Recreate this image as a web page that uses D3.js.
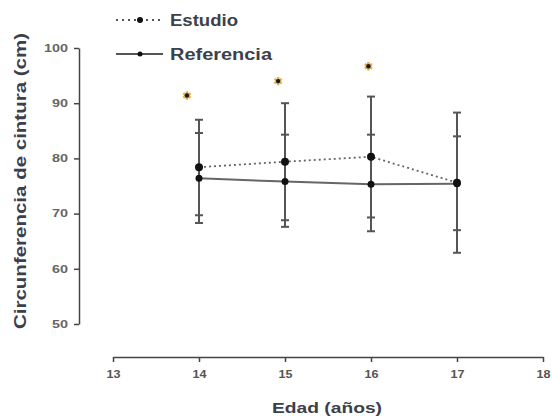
<!DOCTYPE html>
<html>
<head>
<meta charset="utf-8">
<script src="https://cdn.jsdelivr.net/npm/d3@7"></script>
<style>
  body { margin: 0; background: #fff; }
  svg { font-family: "Liberation Sans", Arial, sans-serif; }
</style>
</head>
<body>
<div id="chart"></div>
<script>
// data
const edades = [14, 15, 16, 17];
const estudioMedia = [78.4, 79.4, 80.3, 75.6];
const estudioSup = [87.0, 90.0, 91.2, 88.3];
const estudioInf = [69.7, 68.8, 69.3, 62.9];
const refMedia = [76.4, 75.8, 75.3, 75.4];
const refSup = [84.6, 84.3, 84.3, 84.0];
const refInf = [68.3, 67.6, 66.8, 67.0];
const asteriscos = [[13.86, 91.4], [14.92, 94.0], [15.97, 96.7]];
const xTicks = [13, 14, 15, 16, 17, 18];
const yTicks = [50, 60, 70, 80, 90, 100];

const config = {div: '#chart', width: 552, height: 416};

const svg = d3.select(config.div)
  .append('svg')
  .attr('width', config.width)
  .attr('height', config.height);

const xScale = d3.scaleLinear().domain([13, 18]).range([113, 543]);
const yScale = d3.scaleLinear().domain([50, 100]).range([324, 48]);

const axisColor = '#444';
const textColor = '#3b404c';

// the original picture is stretched sideways, so text gets a fixed length
function wideText(sel, perChar) {
  sel.attr('textLength', function() { return this.textContent.length * perChar; })
    .attr('lengthAdjust', 'spacingAndGlyphs');
}

// y axis
const yAxis = d3.axisLeft(yScale).tickValues(yTicks).tickSize(5).tickSizeOuter(0).tickPadding(6);
const gy = svg.append('g')
  .attr('transform', 'translate(79,0)')
  .call(yAxis);
gy.select('.domain').attr('stroke', axisColor).attr('stroke-width', 1.5);
gy.selectAll('.tick line').attr('stroke', axisColor).attr('stroke-width', 1.5);
gy.selectAll('.tick text')
  .attr('fill', '#666')
  .style('font-size', '10px')
  .style('font-weight', 'bold')
  .call(wideText, 8);

// x axis
const xAxis = d3.axisBottom(xScale).tickValues(xTicks).tickFormat(d3.format('d'))
  .tickSize(5).tickSizeOuter(0).tickPadding(9);
const gx = svg.append('g')
  .attr('transform', 'translate(0,357)')
  .call(xAxis);
gx.select('.domain').attr('stroke', axisColor).attr('stroke-width', 1.5);
gx.selectAll('.tick line').attr('stroke', axisColor).attr('stroke-width', 1.5);
gx.selectAll('.tick text')
  .attr('fill', '#555')
  .style('font-size', '10px')
  .style('font-weight', 'bold')
  .call(wideText, 7);

// axis titles
svg.append('text')
  .attr('transform', 'translate(26,181)rotate(-90)')
  .attr('text-anchor', 'middle')
  .attr('fill', textColor)
  .style('font-size', '16px')
  .style('font-weight', 'bold')
  .attr('textLength', 296)
  .attr('lengthAdjust', 'spacingAndGlyphs')
  .text('Circunferencia de cintura (cm)');

svg.append('text')
  .attr('x', 327)
  .attr('y', 413)
  .attr('text-anchor', 'middle')
  .attr('fill', textColor)
  .style('font-size', '15px')
  .style('font-weight', 'bold')
  .attr('textLength', 110)
  .attr('lengthAdjust', 'spacingAndGlyphs')
  .text('Edad (años)');

// error bars
function errorBars(sup, inf) {
  const g = svg.append('g').attr('stroke', '#555').attr('stroke-width', 2);
  edades.forEach((e, i) => {
    const x = xScale(e);
    g.append('line')
      .attr('x1', x).attr('x2', x)
      .attr('y1', yScale(sup[i])).attr('y2', yScale(inf[i]));
    [sup[i], inf[i]].forEach(v => {
      g.append('line')
        .attr('x1', x - 4).attr('x2', x + 4)
        .attr('y1', yScale(v)).attr('y2', yScale(v));
    });
  });
}
errorBars(estudioSup, estudioInf);
errorBars(refSup, refInf);

// lines
const line = d3.line().x(d => xScale(d[0])).y(d => yScale(d[1]));
svg.append('path')
  .datum(edades.map((e, i) => [e, refMedia[i]]))
  .attr('d', line)
  .attr('fill', 'none')
  .attr('stroke', '#666')
  .attr('stroke-width', 2);
svg.append('path')
  .datum(edades.map((e, i) => [e, estudioMedia[i]]))
  .attr('d', line)
  .attr('fill', 'none')
  .attr('stroke', '#666')
  .attr('stroke-width', 1.8)
  .attr('stroke-dasharray', '2,3');

// markers
svg.selectAll('.ref')
  .data(edades)
  .enter()
  .append('circle')
    .attr('cx', d => xScale(d))
    .attr('cy', (d, i) => yScale(refMedia[i]))
    .attr('r', 3.5)
    .attr('fill', '#111');
svg.selectAll('.est')
  .data(edades)
  .enter()
  .append('circle')
    .attr('cx', d => xScale(d))
    .attr('cy', (d, i) => yScale(estudioMedia[i]))
    .attr('r', 4)
    .attr('fill', '#111');

// significance asterisks
asteriscos.forEach(a => {
  const x = xScale(a[0]), y = yScale(a[1]);
  svg.append('path')
    .attr('transform', `translate(${x},${y})`)
    .attr('d', d3.symbol().type(d3.symbolAsterisk).size(50)())
    .attr('stroke', '#e0b040')
    .attr('stroke-width', 2.5)
    .attr('fill', 'none');
  svg.append('circle')
    .attr('cx', x).attr('cy', y).attr('r', 2.2)
    .attr('fill', '#1a1a2a');
});

// legend
const legend = [
  {label: 'Estudio', y: 20, dash: '2,4', r: 3, len: 68},
  {label: 'Referencia', y: 54, dash: null, r: 2.5, len: 102}
];
legend.forEach(l => {
  svg.append('line')
    .attr('x1', 116).attr('x2', 163)
    .attr('y1', l.y).attr('y2', l.y)
    .attr('stroke', '#555')
    .attr('stroke-width', 1.8)
    .attr('stroke-dasharray', l.dash);
  svg.append('circle')
    .attr('cx', 140).attr('cy', l.y).attr('r', l.r)
    .attr('fill', '#111');
  svg.append('text')
    .attr('x', 170)
    .attr('y', l.y + 6)
    .attr('fill', textColor)
    .style('font-size', '16px')
    .style('font-weight', 'bold')
    .attr('textLength', l.len)
    .attr('lengthAdjust', 'spacingAndGlyphs')
    .text(l.label);
});
</script>
</body>
</html>
